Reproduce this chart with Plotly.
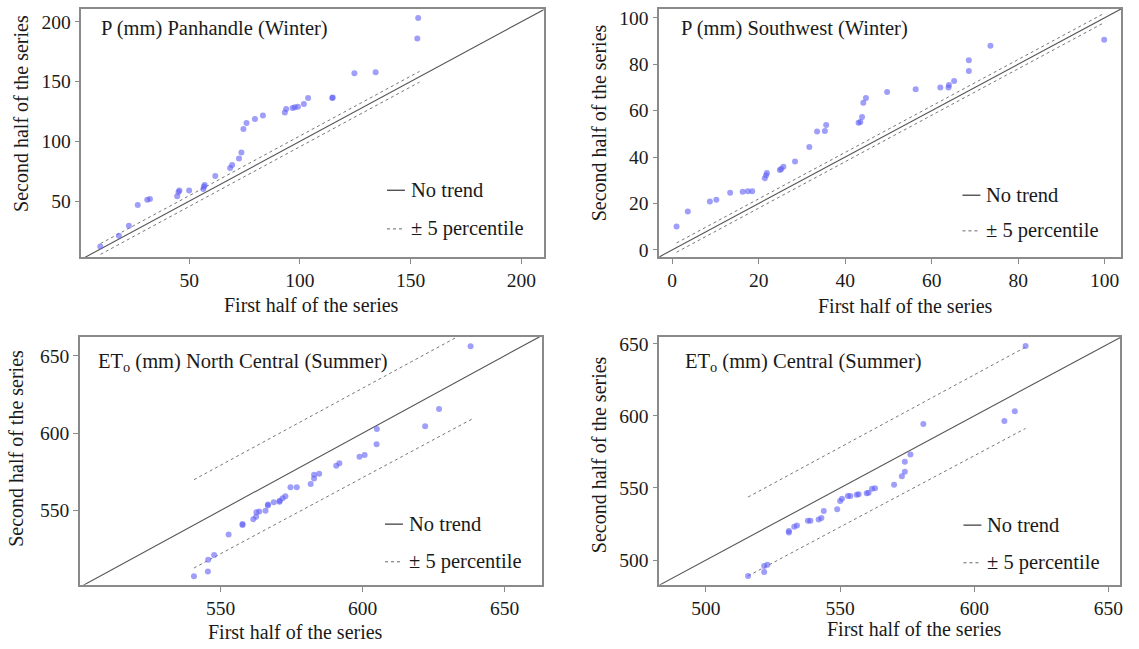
import plotly.graph_objects as go

W, H = 1139, 649

# ---------------- data ----------------
p1_first = [9.9, 18.3, 22.8, 26.8, 31.1, 32.3, 44.6, 45.2, 45.6, 50.0, 56.4, 56.7, 57.0, 61.8, 68.5, 69.4,
            72.5, 73.6, 74.5, 75.9, 79.7, 83.3, 93.2, 93.8, 96.7, 97.7, 99.1, 101.8, 103.7, 114.6, 114.8,
            124.6, 134.2, 153.0, 153.4]
p1_second = [12.1, 21.0, 29.5, 46.7, 51.1, 51.7, 54.1, 57.7, 58.9, 58.9, 60.2, 62.2, 63.5, 71.0, 77.6, 80.1,
             85.7, 90.6, 110.3, 115.3, 118.6, 121.6, 124.0, 127.1, 127.9, 128.5, 129.0, 131.3, 136.2, 136.3,
             136.6, 157.0, 157.8, 186.0, 203.1]
p1_band_x = [10, 154]
p1_upper = [14.5, 158.5]
p1_lower = [5.5, 149.5]

p2_first = [1.0, 3.6, 8.7, 10.2, 13.4, 16.3, 17.5, 18.5, 21.4, 21.7, 21.9, 24.9, 25.2, 25.7, 28.4, 31.7,
            33.5, 35.3, 35.6, 43.1, 43.5, 43.9, 44.2, 44.8, 49.7, 56.3, 62.0, 63.9, 64.0, 65.2, 68.6, 68.6,
            73.6, 99.9]
p2_second = [10.1, 16.5, 20.9, 21.6, 24.6, 25.0, 25.3, 25.3, 30.9, 32.2, 33.1, 34.4, 34.8, 35.8, 38.1, 44.3,
             51.0, 51.2, 53.8, 54.8, 55.1, 57.2, 63.4, 65.4, 68.0, 69.2, 70.0, 70.0, 71.0, 72.8, 77.1, 81.7,
             87.9, 90.5]
p2_band_x = [1.0, 99.8]
p2_upper = [3.0, 101.8]
p2_lower = [-1.0, 97.8]

p3_first = [540.6, 545.5, 545.6, 547.7, 552.8, 557.7, 557.7, 561.5, 562.5, 562.6, 563.6, 565.8, 566.6, 566.7,
            568.7, 570.7, 570.8, 571.8, 572.8, 574.6, 576.8, 581.7, 582.9, 582.9, 584.7, 590.7, 591.8, 598.9,
            600.7, 604.9, 605.0, 622.0, 626.9, 638.0]
p3_second = [507.5, 510.5, 518.2, 521.2, 534.5, 540.6, 541.2, 544.3, 546.0, 548.9, 549.4, 549.8, 553.2, 553.9,
             555.3, 555.6, 556.2, 557.9, 559.2, 565.0, 565.0, 567.1, 570.7, 573.1, 573.7, 578.9, 580.6, 584.8,
             585.9, 592.8, 602.6, 604.5, 615.6, 656.2]
p3_band_x = [540.6, 638.4]
p3_upper = [569.9, 667.3]
p3_lower = [512.8, 609.0]

p4_first = [515.7, 521.7, 521.7, 522.9, 530.9, 530.9, 532.9, 533.9, 538.0, 538.9, 542.0, 543.0, 543.9, 548.9,
            550.0, 550.7, 552.9, 553.8, 556.2, 556.9, 559.9, 560.6, 561.9, 563.0, 570.1, 573.0, 574.1, 574.1,
            576.2, 581.0, 611.2, 615.1, 619.1]
p4_second = [489.0, 491.8, 495.9, 496.8, 519.2, 520.1, 523.1, 524.0, 527.2, 527.2, 528.2, 529.1, 534.1, 535.2,
             540.9, 542.6, 544.4, 544.4, 545.3, 545.7, 546.4, 546.7, 549.4, 549.9, 552.2, 558.1, 561.3, 568.2,
             573.2, 594.3, 596.4, 603.2, 648.4]
p4_band_x = [515.7, 619.1]
p4_upper = [543.7, 647.7]
p4_lower = [489.0, 591.3]

titles = ["P (mm) Panhandle (Winter)", "P (mm) Southwest (Winter)",
          "ET<sub>o</sub> (mm) North Central (Summer)", "ET<sub>o</sub> (mm) Central (Summer)"]
x_ticks = [[50, 100, 150, 200], [0, 20, 40, 60, 80, 100], [550, 600, 650], [500, 550, 600, 650]]
y_ticks = [[50, 100, 150, 200], [0, 20, 40, 60, 80, 100], [550, 600, 650], [500, 550, 600, 650]]
x_title = "First half of the series"
y_title = "Second half of the series"
legend_solid = "No trend"
legend_dot = "± 5 percentile"

# ---------------- layout geometry (pixels) ----------------
panels = [
    dict(first=p1_first, second=p1_second, bx=p1_band_x, up=p1_upper, lo=p1_lower,
         px=(81.7, 545), py=(6, 256.7), xr=[1.4, 210], yr=[3.0, 210.7],
         title_xy=(99, 26), ytit=(21, 111), xtit=(312, 305), leg=(388, 189, 228)),
    dict(first=p2_first, second=p2_second, bx=p2_band_x, up=p2_upper, lo=p2_lower,
         px=(661, 1124), py=(6, 256.7), xr=[-3.0, 103.8], yr=[-3.2, 103.8],
         title_xy=(681, 26), ytit=(600, 121), xtit=(908, 306), leg=(965, 194, 230)),
    dict(first=p3_first, second=p3_second, bx=p3_band_x, up=p3_upper, lo=p3_lower,
         px=(80, 543), py=(336.7, 587.3), xr=[500.4, 663], yr=[501.9, 662.4],
         title_xy=(96, 363), ytit=(16, 449), xtit=(296, 635), leg=(386, 526, 564)),
    dict(first=p4_first, second=p4_second, bx=p4_band_x, up=p4_upper, lo=p4_lower,
         px=(661, 1123), py=(336.7, 587.3), xr=[482.6, 654.3], yr=[482.8, 655.0],
         title_xy=(685, 363), ytit=(600, 456), xtit=(917, 632), leg=(966, 527, 565)),
]

FONT = "Liberation Serif"
TXT = "#1a1a1a"
AXC = "#8a8a8a"

def fx(X):
    return X / W

def fy(Y):
    return 1 - Y / H

fig = go.Figure()
layout = dict(width=W, height=H, margin=dict(l=0, r=0, t=0, b=0), showlegend=False,
              plot_bgcolor="white", paper_bgcolor="white",
              font=dict(family=FONT, color=TXT, size=19))
annotations = []
shapes = []

for i, p in enumerate(panels):
    n = i + 1
    xa = "x" if n == 1 else f"x{n}"
    ya = "y" if n == 1 else f"y{n}"
    xkey = "xaxis" if n == 1 else f"xaxis{n}"
    ykey = "yaxis" if n == 1 else f"yaxis{n}"
    lo = min(p["xr"][0], p["yr"][0])
    hi = max(p["xr"][1], p["yr"][1])
    # No-trend 1:1 line
    fig.add_trace(go.Scatter(x=[lo, hi], y=[lo, hi], mode="lines", xaxis=xa, yaxis=ya,
                             line=dict(color="#555555", width=1.1), hoverinfo="skip"))
    # percentile band
    fig.add_trace(go.Scatter(x=p["bx"], y=p["up"], mode="lines", xaxis=xa, yaxis=ya,
                             line=dict(color="#777777", width=1, dash="dot"), hoverinfo="skip"))
    fig.add_trace(go.Scatter(x=p["bx"], y=p["lo"], mode="lines", xaxis=xa, yaxis=ya,
                             line=dict(color="#777777", width=1, dash="dot"), hoverinfo="skip"))
    # quantile points
    fig.add_trace(go.Scatter(x=p["first"], y=p["second"], mode="markers", xaxis=xa, yaxis=ya,
                             marker=dict(color="rgba(95,95,245,0.6)", size=6, line=dict(width=0))))

    layout[xkey] = dict(domain=[fx(p["px"][0]), fx(p["px"][1])], range=p["xr"], anchor=ya,
                        tickvals=x_ticks[i], showgrid=False, zeroline=False,
                        showline=True, mirror=True, linecolor=AXC, linewidth=1.5,
                        ticks="outside", ticklen=5, tickcolor=AXC, tickwidth=1,
                        tickfont=dict(family=FONT, size=19.5, color=TXT))
    layout[ykey] = dict(domain=[fy(p["py"][1]), fy(p["py"][0])], range=p["yr"], anchor=xa,
                        tickvals=y_ticks[i], showgrid=False, zeroline=False,
                        showline=True, mirror=True, linecolor=AXC, linewidth=1.5,
                        ticks="outside", ticklen=5, tickcolor=AXC, tickwidth=1,
                        tickfont=dict(family=FONT, size=19.5, color=TXT))

    # panel title
    annotations.append(dict(text=titles[i], x=fx(p["title_xy"][0]), y=fy(p["title_xy"][1]),
                            xref="paper", yref="paper", xanchor="left", yanchor="middle",
                            showarrow=False, font=dict(family=FONT, size=20.5, color=TXT)))
    # axis titles
    annotations.append(dict(text=x_title, x=fx(p["xtit"][0]), y=fy(p["xtit"][1]),
                            xref="paper", yref="paper", xanchor="center", yanchor="middle",
                            showarrow=False, font=dict(family=FONT, size=20, color=TXT)))
    annotations.append(dict(text=y_title, x=fx(p["ytit"][0]), y=fy(p["ytit"][1]), textangle=-90,
                            xref="paper", yref="paper", xanchor="center", yanchor="middle",
                            showarrow=False, font=dict(family=FONT, size=20, color=TXT)))
    # legend
    lx, ly1, ly2 = p["leg"]
    shapes.append(dict(type="line", xref="paper", yref="paper", x0=fx(lx), x1=fx(lx + 18),
                       y0=fy(ly1), y1=fy(ly1), line=dict(color="#333333", width=1.2)))
    shapes.append(dict(type="line", xref="paper", yref="paper", x0=fx(lx), x1=fx(lx + 18),
                       y0=fy(ly2), y1=fy(ly2), line=dict(color="#666666", width=1, dash="dot")))
    annotations.append(dict(text=legend_solid, x=fx(lx + 22), y=fy(ly1), xref="paper", yref="paper",
                            xanchor="left", yanchor="middle", showarrow=False,
                            font=dict(family=FONT, size=20.5, color=TXT)))
    annotations.append(dict(text=legend_dot, x=fx(lx + 22), y=fy(ly2), xref="paper", yref="paper",
                            xanchor="left", yanchor="middle", showarrow=False,
                            font=dict(family=FONT, size=20.5, color=TXT)))

layout["annotations"] = annotations
layout["shapes"] = shapes
fig.update_layout(**layout)
fig.write_html("out.html", config={"displayModeBar": False},
               post_script="document.body.style.margin='0';")
